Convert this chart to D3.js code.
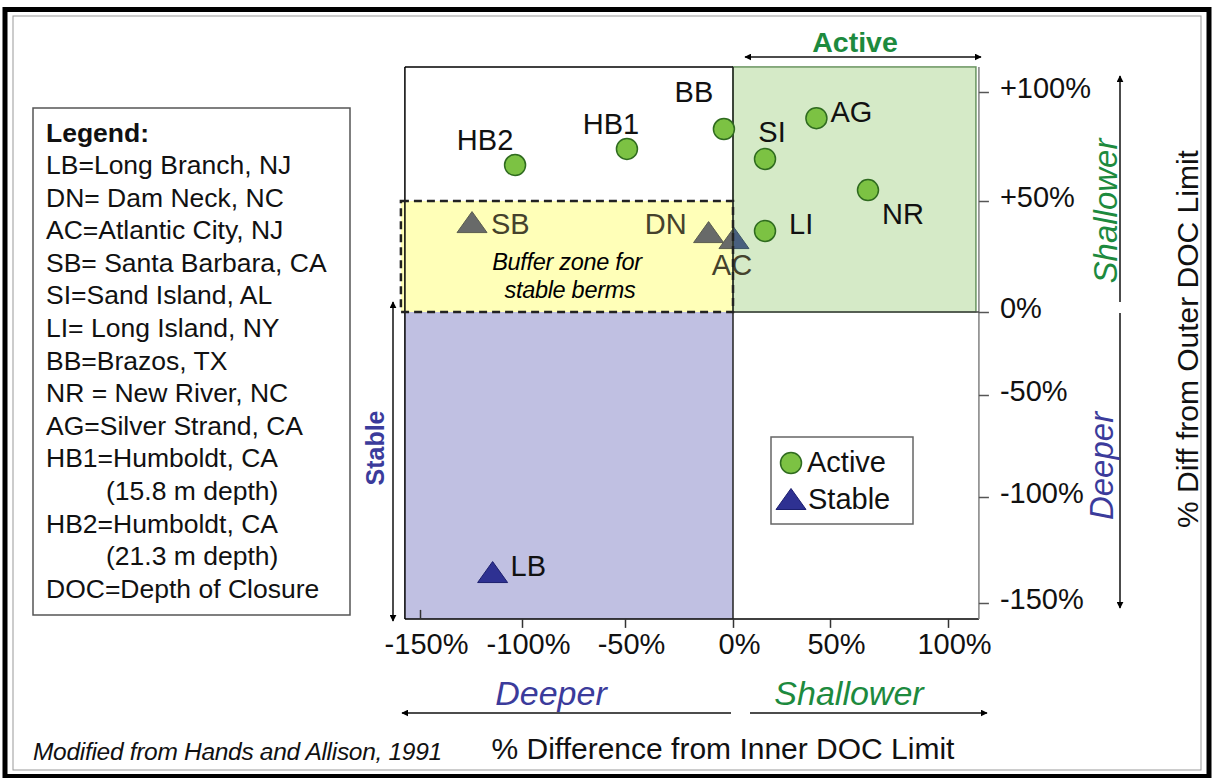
<!DOCTYPE html>
<html>
<head>
<meta charset="utf-8">
<script src="https://cdn.jsdelivr.net/npm/d3@7"></script>
<style>
  body { margin: 0; background: #fff; }
  text { font-family: "Liberation Sans", Arial, sans-serif; }
</style>
</head>
<body>
<script>
////////////////////////////////////////
// berm sites: % diff from inner DOC limit (x) and outer DOC limit (y)
////////////////////////////////////////

var sites     = ["LB", "DN", "AC", "SB", "SI", "LI", "BB", "NR", "AG", "HB1", "HB2"];
var bermType  = ["Stable", "Stable", "Stable", "Stable", "Active", "Active", "Active", "Active", "Active", "Active", "Active"];
var innerDiff = [-114.4, -11.3, 0.5, -124.5, 16.5, 16.5, -4.2, 66.1, 43, -49.1, -103.4];
var outerDiff = [-135.4, 36, 33.3, 40.5, 69.3, 36.5, 83, 55, 88, 73.9, 66.5];

var xTicks = [-150, -100, -50, 0, 50, 100];
var yTicks = [-150, -100, -50, 0, 50, 100];
var xTickLabels = ["-150%", "-100%", "-50%", "0%", "50%", "100%"];
var yTickLabels = ["-150%", "-100%", "-50%", "0%", "+50%", "+100%"];

var legendLines = [
    "LB=Long Branch, NJ",
    "DN= Dam Neck, NC",
    "AC=Atlantic City, NJ",
    "SB= Santa Barbara, CA",
    "SI=Sand Island, AL",
    "LI= Long Island, NY",
    "BB=Brazos, TX",
    "NR = New River, NC",
    "AG=Silver Strand, CA",
    "HB1=Humboldt, CA",
    "    (15.8 m depth)",
    "HB2=Humboldt, CA",
    "    (21.3 m depth)",
    "DOC=Depth of Closure"
];

// where each site label sits next to its marker: dx, dy, anchor
var labelPlace = {
    LB: [18, 4, "start"], DN: [-22, 2, "end"], AC: [-2, 37, "middle"],
    SB: [19, 12, "start"], SI: [7, -17, "middle"], LI: [24, 3, "start"],
    BB: [-30, -27, "middle"], NR: [14, 34, "start"], AG: [14, 4, "start"],
    HB1: [-16, -15, "middle"], HB2: [-30, -15, "middle"]
};

var xMin = -157.4, xMax = 113.1, yMin = -157.5, yMax = 111.5;

var navy = "#2e3192";
var dkGreen = "#1d8a3e";
var dkBlue = "#3b3b9b";

////////////////////////////////////////

var svg = d3.select("body").append("svg")
    .attr("width", 1214)
    .attr("height", 778);

// the axes of the original figure are not evenly spaced, so map tick to tick
var x = d3.scaleLinear().domain(xTicks).range([420, 522, 625, 733, 830, 948]);
var y = d3.scaleLinear().domain(yTicks).range([603, 497, 395, 312, 201, 92]);

var defs = svg.append("defs");
defs.append("marker")
    .attr("id", "head")
    .attr("viewBox", "0 0 10 10")
    .attr("refX", 9).attr("refY", 5)
    .attr("markerWidth", 7).attr("markerHeight", 7)
    .attr("markerUnits", "userSpaceOnUse")
    .attr("orient", "auto-start-reverse")
    .append("path")
    .attr("d", "M0,0L10,5L0,10z")
    .attr("fill", "#000");

// outer frame
svg.append("rect")
    .attr("x", 5).attr("y", 9.5).attr("width", 1204).attr("height", 767)
    .attr("fill", "#fff").attr("stroke", "#000").attr("stroke-width", 5);
svg.append("rect")
    .attr("x", 13).attr("y", 16).attr("width", 1188).attr("height", 754)
    .attr("fill", "none").attr("stroke", "#999").attr("stroke-width", 1);

////////////////////////////////////////
// zones

svg.append("rect")
    .attr("x", x(xMin)).attr("y", y(0))
    .attr("width", x(0) - x(xMin)).attr("height", y(yMin) - y(0))
    .attr("fill", "#c0c0e2");

function triPath(cx, cy, w, h) {
    return "M" + cx + "," + (cy - h / 2) +
        "L" + (cx + w / 2) + "," + (cy + h / 2) +
        "L" + (cx - w / 2) + "," + (cy + h / 2) + "Z";
}

var data = sites.map(function(s, i) {
    return { site: s, type: bermType[i], x: innerDiff[i], y: outerDiff[i] };
});

function drawLabel(d, col) {
    var p = labelPlace[d.site];
    svg.append("text")
        .attr("x", x(d.x) + p[0])
        .attr("y", y(d.y) + p[1])
        .attr("text-anchor", p[2])
        .style("font-size", "29px")
        .style("fill", col)
        .text(d.site);
}

var stable = data.filter(function(d) { return d.type === "Stable"; });

// stable berms sit under the tinted zones
stable.forEach(function(d) {
    svg.append("path")
        .attr("d", triPath(x(d.x), y(d.y), 30, 21))
        .attr("fill", navy)
        .attr("stroke", "#1c1f6e").attr("stroke-width", 1);
});

// buffer zone (yellow) and active zone (green), translucent
svg.append("rect")
    .attr("x", x(xMin) - 4).attr("y", y(50))
    .attr("width", x(0) - x(xMin) + 4).attr("height", y(0) - y(50))
    .attr("fill", "#ffff00").attr("fill-opacity", 0.28);

svg.append("rect")
    .attr("x", x(0)).attr("y", y(yMax))
    .attr("width", x(xMax) - x(0) - 3).attr("height", y(0) - y(yMax))
    .attr("fill", "#7fbf55").attr("fill-opacity", 0.33)
    .attr("stroke", "#6a9560").attr("stroke-width", 1.5);

stable.forEach(function(d) {
    drawLabel(d, d.y < 0 ? "#111" : "#45422c");
});

////////////////////////////////////////
// plot borders and zero lines

svg.append("line")
    .attr("x1", x(xMin)).attr("x2", x(0)).attr("y1", y(yMax)).attr("y2", y(yMax))
    .attr("stroke", "#000").attr("stroke-width", 1.5);
svg.append("line")
    .attr("x1", x(xMin)).attr("x2", x(xMin)).attr("y1", y(yMax)).attr("y2", y(yMin))
    .attr("stroke", "#000").attr("stroke-width", 1.5);
svg.append("line")
    .attr("x1", x(xMin)).attr("x2", x(xMax)).attr("y1", y(yMin)).attr("y2", y(yMin))
    .attr("stroke", "#000").attr("stroke-width", 1.5);
svg.append("line")
    .attr("x1", x(xMax)).attr("x2", x(xMax)).attr("y1", y(yMax)).attr("y2", y(yMin))
    .attr("stroke", "#808080").attr("stroke-width", 1.5);
svg.append("line")
    .attr("x1", x(0)).attr("x2", x(0)).attr("y1", y(yMax)).attr("y2", y(yMin))
    .attr("stroke", "#222").attr("stroke-width", 1.5);
svg.append("line")
    .attr("x1", x(0)).attr("x2", x(xMax)).attr("y1", y(0)).attr("y2", y(0))
    .attr("stroke", "#444").attr("stroke-width", 1.5);

// dashed outline of buffer zone
svg.append("rect")
    .attr("x", x(xMin) - 4).attr("y", y(50))
    .attr("width", x(0) - x(xMin) + 4).attr("height", y(0) - y(50))
    .attr("fill", "none")
    .attr("stroke", "#222").attr("stroke-width", 2.5)
    .attr("stroke-dasharray", "8,5");

svg.append("text")
    .attr("x", (x(xMin) + x(0)) / 2 - 2).attr("y", 270)
    .attr("text-anchor", "middle")
    .style("font-size", "23.5px").style("font-style", "italic")
    .style("letter-spacing", "-0.3px")
    .text("Buffer zone for");
svg.append("text")
    .attr("x", (x(xMin) + x(0)) / 2 + 1).attr("y", 298)
    .attr("text-anchor", "middle")
    .style("font-size", "23.5px").style("font-style", "italic")
    .style("letter-spacing", "-0.3px")
    .text("stable berms");

// active berms on top
data.filter(function(d) { return d.type === "Active"; }).forEach(function(d) {
    svg.append("circle")
        .attr("cx", x(d.x)).attr("cy", y(d.y)).attr("r", 10.5)
        .attr("fill", "#7cc243")
        .attr("stroke", "#2f6b1f").attr("stroke-width", 1.5);
    drawLabel(d, "#111");
});

////////////////////////////////////////
// axes

var xAxis = svg.append("g")
    .attr("transform", "translate(0," + y(yMin) + ")")
    .call(d3.axisBottom(x).tickValues(xTicks).tickSize(9).tickPadding(6)
        .tickFormat(function(d, i) { return xTickLabels[i]; }));
xAxis.select(".domain").remove();
xAxis.selectAll(".tick line").attr("stroke", "#333").attr("stroke-width", 1.5)
    .filter(function(d) { return d === xTicks[0]; }).attr("y2", -9);
xAxis.selectAll(".tick text")
    .attr("dx", 6)
    .style("font-size", "29px")
    .style("font-family", "'Liberation Sans', Arial, sans-serif")
    .style("fill", "#111");

var yAxis = svg.append("g")
    .attr("transform", "translate(" + x(xMax) + ",0)")
    .call(d3.axisRight(y).tickValues(yTicks).tickSize(10).tickPadding(11)
        .tickFormat(function(d, i) { return yTickLabels[i]; }));
yAxis.select(".domain").remove();
yAxis.selectAll(".tick line").attr("stroke", "#555").attr("stroke-width", 1.5);
yAxis.selectAll(".tick text")
    .attr("dy", "0.2em")
    .style("font-size", "29px")
    .style("font-family", "'Liberation Sans', Arial, sans-serif")
    .style("fill", "#111");

////////////////////////////////////////
// arrows and zone titles

function arrow(x1, y1, x2, y2, both) {
    var l = svg.append("line")
        .attr("x1", x1).attr("y1", y1).attr("x2", x2).attr("y2", y2)
        .attr("stroke", "#111").attr("stroke-width", 1.5)
        .attr("marker-end", "url(#head)");
    if (both) l.attr("marker-start", "url(#head)");
}

arrow(745, 57, 981, 57, true);
svg.append("text")
    .attr("x", 855).attr("y", 52)
    .attr("text-anchor", "middle")
    .style("font-size", "28.5px").style("font-weight", "bold")
    .style("fill", dkGreen)
    .text("Active");

arrow(393, 621, 393, 302, true);
svg.append("text")
    .attr("transform", "translate(384,448) rotate(-90)")
    .attr("text-anchor", "middle")
    .style("font-size", "25px").style("font-weight", "bold")
    .style("fill", dkBlue)
    .text("Stable");

arrow(1120, 302, 1120, 76, false);
arrow(1120, 313, 1120, 608, false);
svg.append("text")
    .attr("transform", "translate(1117,211) rotate(-90)")
    .attr("text-anchor", "middle")
    .style("font-size", "33px").style("font-style", "italic")
    .style("fill", dkGreen)
    .text("Shallower");
svg.append("text")
    .attr("transform", "translate(1113,466) rotate(-90)")
    .attr("text-anchor", "middle")
    .style("font-size", "33px").style("font-style", "italic")
    .style("fill", dkBlue)
    .text("Deeper");
svg.append("text")
    .attr("transform", "translate(1198,339) rotate(-90)")
    .attr("text-anchor", "middle")
    .style("font-size", "30px")
    .style("fill", "#111")
    .text("% Diff from Outer DOC Limit");

arrow(731, 713, 402, 713, false);
arrow(750, 713, 987, 713, false);
svg.append("text")
    .attr("x", 551).attr("y", 705)
    .attr("text-anchor", "middle")
    .style("font-size", "34px").style("font-style", "italic")
    .style("fill", dkBlue)
    .text("Deeper");
svg.append("text")
    .attr("x", 849).attr("y", 705)
    .attr("text-anchor", "middle")
    .style("font-size", "34px").style("font-style", "italic")
    .style("fill", dkGreen)
    .text("Shallower");

svg.append("text")
    .attr("x", 723).attr("y", 759)
    .attr("text-anchor", "middle")
    .style("font-size", "30px")
    .style("fill", "#111")
    .text("% Difference from Inner DOC Limit");

svg.append("text")
    .attr("x", 33).attr("y", 760)
    .style("font-size", "24.5px").style("font-style", "italic")
    .style("letter-spacing", "-0.3px")
    .style("fill", "#111")
    .text("Modified from Hands and Allison, 1991");

////////////////////////////////////////
// Active / Stable key

svg.append("rect")
    .attr("x", 771).attr("y", 437).attr("width", 142).attr("height", 87)
    .attr("fill", "#fff").attr("stroke", "#666").attr("stroke-width", 1.5);
svg.append("circle")
    .attr("cx", 791).attr("cy", 463).attr("r", 10.5)
    .attr("fill", "#7cc243").attr("stroke", "#2f6b1f").attr("stroke-width", 1.5);
svg.append("path")
    .attr("d", triPath(791, 499, 30, 21))
    .attr("fill", navy).attr("stroke", "#1c1f6e").attr("stroke-width", 1);
svg.append("text")
    .attr("x", 807).attr("y", 472)
    .style("font-size", "29px").style("fill", "#111")
    .text("Active");
svg.append("text")
    .attr("x", 808).attr("y", 509)
    .style("font-size", "29px").style("fill", "#111")
    .text("Stable");

////////////////////////////////////////
// site legend box

svg.append("rect")
    .attr("x", 33).attr("y", 108).attr("width", 317).attr("height", 507)
    .attr("fill", "#fff").attr("stroke", "#555").attr("stroke-width", 1.5);
svg.append("text")
    .attr("x", 46).attr("y", 142)
    .style("font-size", "26.5px").style("font-weight", "bold")
    .style("fill", "#111")
    .text("Legend:");
svg.selectAll("text.leg")
    .data(legendLines)
    .enter().append("text")
    .attr("class", "leg")
    .attr("x", function(d) { return d.indexOf("    ") === 0 ? 106 : 46; })
    .attr("y", function(d, i) { return 174 + i * 32.6; })
    .style("font-size", "26.5px")
    .style("fill", "#111")
    .text(function(d) { return d.trim(); });
</script>
</body>
</html>
